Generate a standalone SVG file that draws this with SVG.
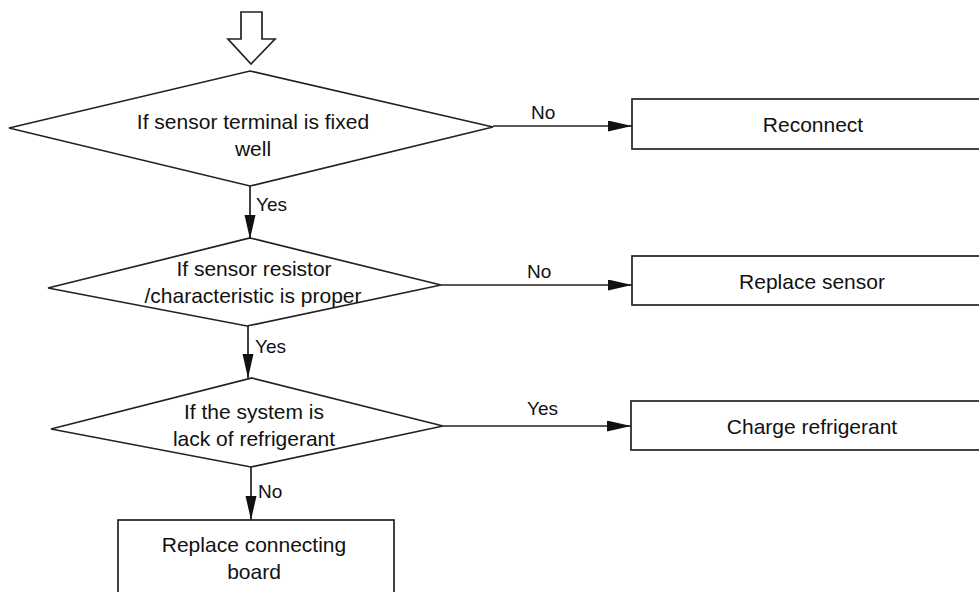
<svg xmlns="http://www.w3.org/2000/svg" width="979" height="592" viewBox="0 0 979 592">
<defs>
<style>
.shape{fill:#fff;stroke:#222;stroke-width:1.7}
.conn{fill:none;stroke:#222;stroke-width:1.7}
.t{font-family:"Liberation Sans",Arial,sans-serif;font-size:21px;fill:#111;text-anchor:middle}
.lbl{font-family:"Liberation Sans",Arial,sans-serif;font-size:19px;fill:#111}
</style>
<marker id="arr" markerUnits="userSpaceOnUse" markerWidth="26" markerHeight="12" refX="24" refY="5.5" orient="auto">
<path d="M0,0 L24,5.5 L0,11 Z" fill="#111"/>
</marker>
</defs>
<rect width="979" height="592" fill="#fff"/>
<g id="start">
<polygon class="shape" points="241,12 262,12 262,39 275,39 251,64 228,39 241,39"/>
</g>
<g id="d1">
<polygon class="shape" points="250,71 493,127 250,186 9,128"/>
<text class="t" x="253" y="129">If sensor terminal is fixed</text>
<text class="t" x="253" y="156">well</text>
</g>
<g id="d2">
<polygon class="shape" points="250,238 441,285 247,326 48,288"/>
<text class="t" x="254" y="276">If sensor resistor</text>
<text class="t" x="253" y="303">/characteristic is proper</text>
</g>
<g id="d3">
<polygon class="shape" points="252,378 443,426 251,467 51,429"/>
<text class="t" x="254" y="419">If the system is</text>
<text class="t" x="254" y="446">lack of refrigerant</text>
</g>
<g id="reconnect">
<rect class="shape" x="632" y="99" width="360" height="50"/>
<text class="t" x="813" y="132">Reconnect</text>
</g>
<g id="replace-sensor">
<rect class="shape" x="632" y="256" width="360" height="49"/>
<text class="t" x="812" y="289">Replace sensor</text>
</g>
<g id="charge">
<rect class="shape" x="631" y="401" width="360" height="49"/>
<text class="t" x="812" y="434">Charge refrigerant</text>
</g>
<g id="replace-board">
<rect class="shape" x="118" y="520" width="276" height="90"/>
<text class="t" x="254" y="552">Replace connecting</text>
<text class="t" x="254" y="579">board</text>
</g>
<g id="connectors">
<line class="conn" x1="250" y1="186" x2="250" y2="239" marker-end="url(#arr)"/>
<line class="conn" x1="248" y1="326" x2="248" y2="378" marker-end="url(#arr)"/>
<line class="conn" x1="251" y1="467" x2="251" y2="520" marker-end="url(#arr)"/>
<line class="conn" x1="493" y1="126" x2="632" y2="126" marker-end="url(#arr)"/>
<line class="conn" x1="441" y1="285" x2="632" y2="285" marker-end="url(#arr)"/>
<line class="conn" x1="443" y1="426" x2="631" y2="426" marker-end="url(#arr)"/>
<text class="lbl" x="256" y="211">Yes</text>
<text class="lbl" x="255" y="353">Yes</text>
<text class="lbl" x="258" y="498">No</text>
<text class="lbl" x="531" y="119">No</text>
<text class="lbl" x="527" y="278">No</text>
<text class="lbl" x="527" y="415">Yes</text>
</g>
</svg>
